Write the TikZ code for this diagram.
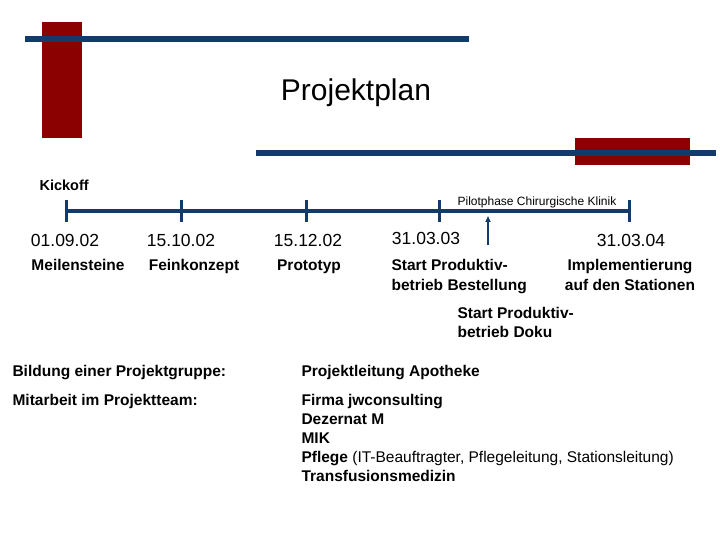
\documentclass[tikz,border=0pt]{standalone}
\usepackage{fontspec}
\setmainfont{Liberation Sans}
\usetikzlibrary{arrows.meta}
\definecolor{dblue}{HTML}{123A6A}
\definecolor{dred}{HTML}{8B0000}
\begin{document}
\begin{tikzpicture}[x=1pt,y=-1pt,
  tick/.style={dblue,line width=3.5pt},
  date/.style={anchor=base,font=\fontsize{17.5}{20}\selectfont},
  lab/.style={anchor=north,align=center,font=\fontsize{15.5}{20}\selectfont\bfseries},
  info/.style={anchor=north west,align=left,font=\fontsize{15.5}{19}\selectfont\bfseries}]
\useasboundingbox (0,0) rectangle (720,540);
\fill[dred] (42,22) rectangle (82,138);
\fill[dblue] (25,36) rectangle (469,42);
\fill[dred] (575,138) rectangle (690,165);
\fill[dblue] (256,150) rectangle (716,156);
\node (title) at (356,93) {\fontsize{30}{34}\selectfont Projektplan};
\node[anchor=base west,font=\fontsize{14.5}{16}\selectfont\bfseries] (kick) at (36,191) {Kickoff};
\coordinate (t0) at (66,211); \coordinate (t4) at (629,211);
\draw[tick] (t0) -- (t4);
\foreach \x/\n in {66/a,181/b,306/c,439/d,629/e}{
  \draw[tick,line width=3pt] (\x,200) -- (\x,222);}
\node[anchor=base,font=\fontsize{12}{14}\selectfont] (pilot) at (537,206) {Pilotphase Chirurgische Klinik};
\coordinate (arrs) at (488,245); \coordinate (arre) at (488,216);
\draw[dblue,line width=1.5pt,-{Triangle[length=6pt,width=5pt]}] (arrs) -- (arre);
\node[date] (d1) at (65,246) {01.09.02};
\node[date] (d2) at (181,246) {15.10.02};
\node[date] (d3) at (308,246) {15.12.02};
\node[date] (d4) at (426,244) {31.03.03};
\node[date] (d5) at (631,246) {31.03.04};
\node[lab] (l1) at (78,256) {Meilensteine};
\node[lab] (l2) at (194,256) {Feinkonzept};
\node[lab] (l3) at (309,256) {Prototyp};
\node[info,font=\fontsize{15.5}{20}\selectfont\bfseries] (l4) at (388,256) {Start Produktiv-\\betrieb Bestellung};
\node[lab] (l5) at (630,256) {Implementierung\\auf den Stationen};
\node[info] (l6) at (454,304) {Start Produktiv-\\betrieb Doku};
\node[info] (b1) at (9,362) {Bildung einer Projektgruppe:};
\node[info] (b2) at (9,391) {Mitarbeit im Projektteam:};
\node[info] (c1) at (298,362) {Projektleitung Apotheke};
\node[info] (c2) at (298,391) {Firma jwconsulting\\Dezernat M\\MIK\\Pflege {\mdseries (IT-Beauftragter, Pflegeleitung, Stationsleitung)}\\Transfusionsmedizin};
\end{tikzpicture}
\end{document}
